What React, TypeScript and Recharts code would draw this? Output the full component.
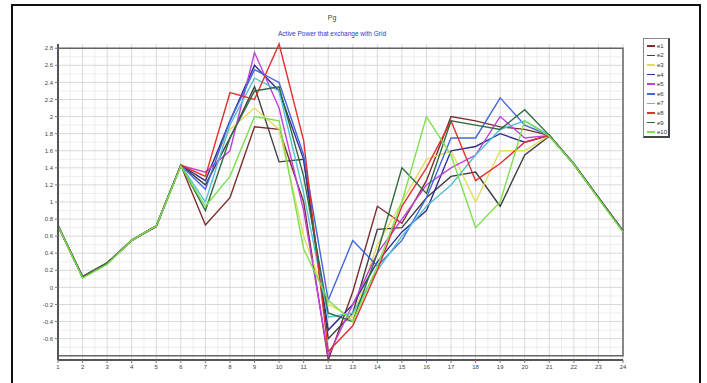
import React from 'react'
import {
  LineChart,
  Line,
  CartesianGrid,
  XAxis,
  YAxis,
  ReferenceArea,
} from 'recharts'

const hours = [1, 2, 3, 4, 5, 6, 7, 8, 9, 10, 11, 12, 13, 14, 15, 16, 17, 18, 19, 20, 21, 22, 23, 24]
const yTicks = [-0.6, -0.4, -0.2, 0, 0.2, 0.4, 0.6, 0.8, 1, 1.2, 1.4, 1.6, 1.8, 2, 2.2, 2.4, 2.6, 2.8]
const seriesNames = ['e1', 'e2', 'e3', 'e4', 'e5', 'e6', 'e7', 'e8', 'e9', 'e10']
const seriesColors = [
  '#7b2d2d',
  '#3f3f3f',
  '#e2dc5a',
  '#30308f',
  '#c040e0',
  '#4466dd',
  '#55c0d8',
  '#e03030',
  '#2f6b3f',
  '#7ce050',
]

const e1 = [0.72, 0.12, 0.28, 0.55, 0.72, 1.43, 0.73, 1.05, 1.88, 1.85, 1.0, -0.85, -0.05, 0.95, 0.75, 1.25, 2.0, 1.95, 1.88, 1.85, 1.78, 1.44, 1.05, 0.66]
const e2 = [0.72, 0.13, 0.29, 0.55, 0.71, 1.43, 1.2, 1.75, 2.35, 1.47, 1.5, -0.6, -0.3, 0.68, 0.7, 1.05, 1.3, 1.35, 0.95, 1.55, 1.77, 1.45, 1.05, 0.66]
const e3 = [0.72, 0.12, 0.28, 0.56, 0.72, 1.44, 1.3, 1.85, 2.1, 1.85, 0.6, -0.2, -0.35, 0.5, 1.0, 1.5, 1.6, 1.0, 1.6, 1.6, 1.78, 1.44, 1.05, 0.66]
const e4 = [0.72, 0.12, 0.28, 0.55, 0.72, 1.43, 1.25, 1.95, 2.6, 2.3, 1.5, -0.5, -0.2, 0.3, 0.65, 0.9, 1.6, 1.65, 1.8, 1.7, 1.78, 1.44, 1.05, 0.66]
const e5 = [0.72, 0.12, 0.28, 0.55, 0.72, 1.43, 1.35, 1.6, 2.75, 2.1, 0.9, -0.8, -0.2, 0.4, 0.8, 1.2, 1.4, 1.55, 2.0, 1.75, 1.78, 1.44, 1.05, 0.66]
const e6 = [0.72, 0.12, 0.28, 0.55, 0.72, 1.43, 1.15, 1.95, 2.55, 2.4, 1.55, -0.15, 0.55, 0.25, 0.55, 1.05, 1.75, 1.75, 2.22, 1.9, 1.78, 1.44, 1.05, 0.66]
const e7 = [0.72, 0.12, 0.28, 0.55, 0.72, 1.43, 1.0, 1.9, 2.45, 2.3, 1.1, -0.35, -0.3, 0.2, 0.6, 0.95, 1.2, 1.55, 1.85, 1.95, 1.78, 1.44, 1.05, 0.66]
const e8 = [0.72, 0.12, 0.28, 0.55, 0.72, 1.43, 1.3, 2.28, 2.2, 2.85, 1.72, -0.75, -0.45, 0.2, 0.95, 1.4, 1.95, 1.25, 1.45, 1.7, 1.78, 1.44, 1.05, 0.66]
const e9 = [0.73, 0.12, 0.28, 0.55, 0.72, 1.43, 0.9, 1.75, 2.3, 2.35, 1.3, -0.3, -0.4, 0.4, 1.4, 1.1, 1.95, 1.9, 1.85, 2.08, 1.78, 1.45, 1.05, 0.66]
const e10 = [0.72, 0.11, 0.27, 0.55, 0.72, 1.42, 0.95, 1.3, 2.0, 1.95, 0.45, -0.15, -0.4, 0.25, 1.0, 2.0, 1.55, 0.7, 1.0, 1.95, 1.77, 1.44, 1.04, 0.65]

const seriesValues = [e1, e2, e3, e4, e5, e6, e7, e8, e9, e10]

const data = hours.map((h, i) => {
  const row: Record<string, number> = { hour: h }
  seriesNames.forEach((name, s) => {
    row[name] = seriesValues[s][i]
  })
  return row
})

const minorY: number[] = []
for (let v = -0.7; v < 2.8; v += 0.2) minorY.push(Math.round(v * 10) / 10)

const font = 'Arial, "Liberation Sans", sans-serif'

function LegendBox() {
  return (
    <div
      style={{
        position: 'absolute',
        left: 643,
        top: 38,
        width: 27,
        height: 100,
        border: '1px solid #888',
        borderRight: '2px solid #444',
        borderBottom: '2px solid #444',
        background: '#fff',
        fontFamily: font,
        fontSize: 6,
        color: '#333',
        paddingTop: 2,
        boxSizing: 'border-box',
      }}
    >
      {seriesNames.map((name, i) => (
        <div key={name} style={{ display: 'flex', alignItems: 'center', height: 9.6 }}>
          <div style={{ width: 8, height: 1.5, background: seriesColors[i], marginLeft: 3, marginRight: 2 }} />
          <span>{name}</span>
        </div>
      ))}
    </div>
  )
}

export default function App() {
  return (
    <div style={{ position: 'relative', width: 707, height: 383, overflow: 'hidden', background: '#fff' }}>
      <style>{'body{margin:0}'}</style>
      <div
        style={{
          position: 'absolute',
          left: 11,
          top: 4,
          width: 686,
          height: 400,
          border: '2px solid #111',
        }}
      />
      <div
        style={{
          position: 'absolute',
          left: 0,
          width: 664,
          top: 14,
          textAlign: 'center',
          fontFamily: font,
          fontSize: 7,
          color: '#444',
        }}
      >
        Pg
      </div>
      <div
        style={{
          position: 'absolute',
          left: 0,
          width: 664,
          top: 30,
          textAlign: 'center',
          fontFamily: font,
          fontSize: 6.5,
          color: '#3333cc',
        }}
      >
        Active Power that exchange with Grid
      </div>
      <LineChart
        width={707}
        height={383}
        data={data}
        margin={{ top: 44, right: 84, bottom: 10, left: 18 }}
        style={{ position: 'absolute', left: 0, top: 0 }}
      >
        <CartesianGrid
          stroke="#eeeeee"
          horizontalValues={minorY}
          verticalValues={hours.slice(0, 23).map((h) => h + 0.5)}
        />
        <CartesianGrid stroke="#d9d9d9" horizontalValues={yTicks} verticalValues={hours} />
        <XAxis
          dataKey="hour"
          type="number"
          domain={[1, 24]}
          ticks={hours}
          interval={0}
          tickSize={3}
          height={13}
          axisLine={{ stroke: '#555', strokeWidth: 2 }}
          tickLine={{ stroke: '#777' }}
          tick={{ fontSize: 6, fill: '#444', fontFamily: font }}
        />
        <YAxis
          type="number"
          domain={[-0.8, 2.8]}
          ticks={yTicks}
          interval={0}
          width={40}
          tickSize={3}
          axisLine={{ stroke: '#555', strokeWidth: 2 }}
          tickLine={{ stroke: '#777' }}
          tick={{ fontSize: 6, fill: '#444', fontFamily: font }}
        />
        <ReferenceArea x1={1} x2={24} y1={-0.8} y2={2.8} fill="none" stroke="#666" strokeWidth={1.5} />
        {seriesNames.map((name, i) => (
          <Line
            key={name}
            type="linear"
            dataKey={name}
            stroke={seriesColors[i]}
            strokeWidth={1.4}
            dot={false}
            activeDot={false}
            isAnimationActive={false}
          />
        ))}
      </LineChart>
      <LegendBox />
    </div>
  )
}
